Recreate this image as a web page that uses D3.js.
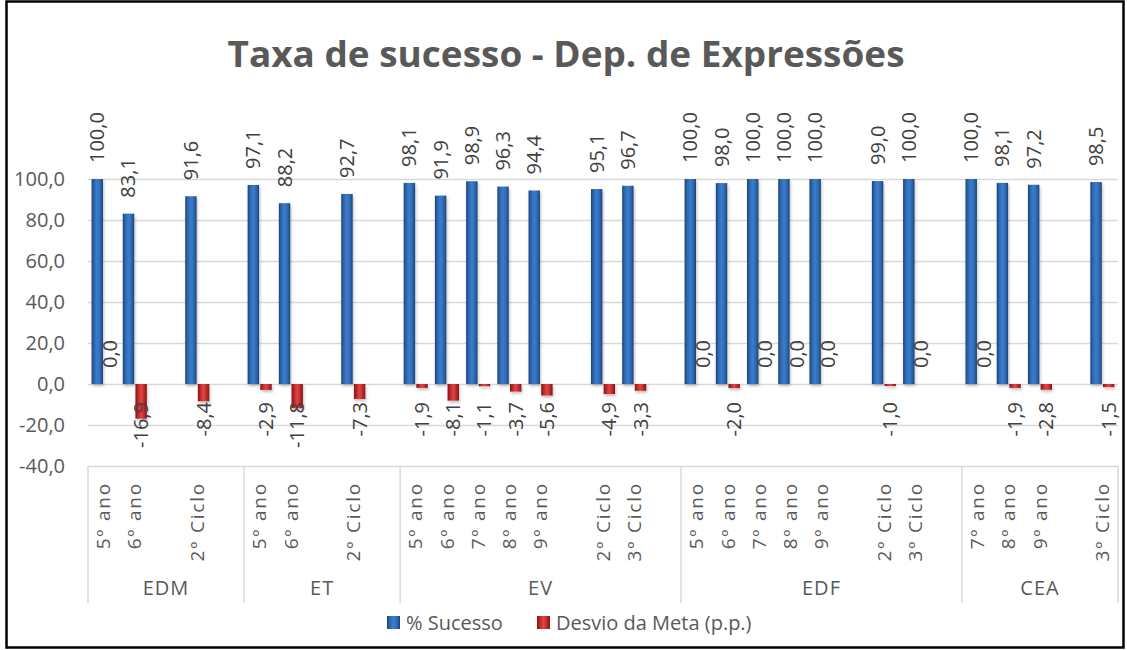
<!DOCTYPE html>
<html>
<head>
<meta charset="utf-8">
<script src="https://cdn.jsdelivr.net/npm/d3@7"></script>
<style>
  html, body { margin: 0; padding: 0; background: #fff; }
  .chart-svg text { font-family: 'Open Sans', 'Noto Sans', sans-serif; }
</style>
</head>
<body>
<div id="sucesso_chart"></div>
<script>
// Groups (departments) and how many slots each takes on the category axis
const groupNames = ['EDM', 'ET', 'EV', 'EDF', 'CEA']
const groupSlots = [5, 5, 9, 9, 5]

// One entry per slot, '' = empty slot
const yearLabels = [
  '5º ano', '6º ano', '', '2º Ciclo', '',
  '5º ano', '6º ano', '', '2º Ciclo', '',
  '5º ano', '6º ano', '7º ano', '8º ano', '9º ano', '', '2º Ciclo', '3º Ciclo', '',
  '5º ano', '6º ano', '7º ano', '8º ano', '9º ano', '', '2º Ciclo', '3º Ciclo', '',
  '7º ano', '8º ano', '9º ano', '', '3º Ciclo'
]

const sucesso = [
  100.0, 83.1, null, 91.6, null,
  97.1, 88.2, null, 92.7, null,
  98.1, 91.9, 98.9, 96.3, 94.4, null, 95.1, 96.7, null,
  100.0, 98.0, 100.0, 100.0, 100.0, null, 99.0, 100.0, null,
  100.0, 98.1, 97.2, null, 98.5
]

const desvio = [
  0.0, -16.9, null, -8.4, null,
  -2.9, -11.8, null, -7.3, null,
  -1.9, -8.1, -1.1, -3.7, -5.6, null, -4.9, -3.3, null,
  0.0, -2.0, 0.0, 0.0, 0.0, null, -1.0, 0.0, null,
  0.0, -1.9, -2.8, null, -1.5
]

const seriesNames = ['% Sucesso', 'Desvio da Meta (p.p.)']
const yTicks = [-40, -20, 0, 20, 40, 60, 80, 100]

const fmt = (v) => v.toFixed(1).replace('.', ',')

function drawChart() {
  const width = 1127
  const height = 650
  const plot = { left: 88, right: 1118, top: 179, bottom: 466 }

  const svg = d3.select('#sucesso_chart')
    .append('svg')
    .attr('width', width)
    .attr('height', height)
    .attr('class', 'chart-svg')

  // Gradients for the bevelled bars
  const defs = svg.append('defs')
  const gradients = [
    { id: 'grad_blue', stops: ['#1b3f6f', '#2c66ad', '#3b7dcc', '#2c66ad', '#1b3f6f'] },
    { id: 'grad_red', stops: ['#7c1414', '#b82626', '#e04646', '#b82626', '#7c1414'] }
  ]
  gradients.forEach((g) => {
    const lg = defs.append('linearGradient')
      .attr('id', g.id)
      .attr('x1', '0%').attr('x2', '100%')
      .attr('y1', '0%').attr('y2', '0%')
    g.stops.forEach((c, i) => {
      lg.append('stop')
        .attr('offset', `${[0, 20, 50, 80, 100][i]}%`)
        .attr('stop-color', c)
    })
  })
  defs.append('filter')
    .attr('id', 'bar_shadow')
    .attr('x', '-50%').attr('y', '-10%')
    .attr('width', '200%').attr('height', '130%')
    .append('feDropShadow')
    .attr('dx', 1).attr('dy', 2)
    .attr('stdDeviation', 1.5)
    .attr('flood-color', '#000')
    .attr('flood-opacity', 0.25)

  // Outer border
  svg.append('rect')
    .attr('x', 6.5).attr('y', 1.5)
    .attr('width', 1117).attr('height', 646)
    .attr('fill', 'none')
    .attr('stroke', '#000')
    .attr('stroke-width', 2.5)

  // Title
  svg.append('text')
    .attr('x', 566)
    .attr('y', 67)
    .attr('text-anchor', 'middle')
    .attr('textLength', 677)
    .attr('lengthAdjust', 'spacingAndGlyphs')
    .style('font-size', '35px')
    .style('font-weight', 'bold')
    .style('fill', '#595959')
    .text('Taxa de sucesso - Dep. de Expressões')

  //===========================================================================

  const slots = d3.range(yearLabels.length)

  const xScale = d3.scaleBand()
    .domain(slots)
    .range([plot.left, plot.right])
    .paddingInner(0.23)
    .paddingOuter(0.115)

  const seriesScale = d3.scaleBand()
    .domain([0, 1])
    .range([0, xScale.bandwidth()])
    .paddingInner(0.1)

  const yScale = d3.scaleLinear()
    .domain([-40, 100])
    .range([plot.bottom, plot.top])

  // Y gridlines
  const yGridCall = d3.axisLeft(yScale)
    .tickValues(yTicks)
    .tickSize(-(plot.right - plot.left))
    .tickFormat('')

  svg.append('g')
    .attr('class', 'y grid')
    .attr('transform', `translate(${plot.left}, 0)`)
    .call(yGridCall)
    .call((g) => g.select('.domain').remove())
    .call((g) => g.selectAll('line').attr('stroke', '#d9d9d9').attr('stroke-width', 1.3))

  // Y tick labels
  const yAxisCall = d3.axisLeft(yScale)
    .tickValues(yTicks)
    .tickSize(0)
    .tickPadding(0)
    .tickFormat(fmt)

  svg.append('g')
    .attr('class', 'y axis')
    .attr('transform', 'translate(65, 0)')
    .call(yAxisCall)
    .call((g) => g.select('.domain').remove())
    .call((g) => g.selectAll('text')
      .attr('x', 0)
      .style('font-size', '20px')
      .style('fill', '#595959'))

  //===========================================================================

  // Bars
  const series = [sucesso, desvio]
  const fills = ['url(#grad_blue)', 'url(#grad_red)']
  const y0 = yScale(0)

  series.forEach((values, s) => {
    const data = slots.filter((i) => values[i] !== null)
      .map((i) => ({ slot: i, value: values[i] }))

    svg.append('g')
      .attr('class', `bars series-${s}`)
      .attr('filter', 'url(#bar_shadow)')
      .selectAll('rect')
      .data(data)
      .join('rect')
      .attr('x', (d) => xScale(d.slot) + seriesScale(s))
      .attr('width', seriesScale.bandwidth())
      .attr('y', (d) => Math.min(yScale(d.value), y0))
      .attr('height', (d) => Math.abs(yScale(d.value) - y0))
      .attr('fill', fills[s])

    // Data labels, rotated
    svg.append('g')
      .attr('class', `labels series-${s}`)
      .selectAll('text')
      .data(data)
      .join('text')
      .attr('transform', (d) => {
        const x = xScale(d.slot) + seriesScale(s) + seriesScale.bandwidth() / 2
        const y = d.value >= 0 ? yScale(d.value) - 16 : y0 + 18
        return `translate(${x}, ${y}) rotate(-90)`
      })
      .attr('dy', '0.35em')
      .attr('text-anchor', (d) => d.value >= 0 ? 'start' : 'end')
      .style('font-size', '20px')
      .style('fill', '#404040')
      .text((d) => fmt(d.value))
  })

  //===========================================================================

  // Category table below the plot
  const tableBottom = 603
  let start = 0
  const groups = groupNames.map((name, i) => {
    const g = { name, first: start, last: start + groupSlots[i] - 1 }
    start += groupSlots[i]
    return g
  })

  const step = xScale.step()
  const edges = [plot.left].concat(groups.map((g) => xScale(g.last) - xScale.paddingInner() * step / 2 + step))

  svg.append('g')
    .attr('class', 'x separators')
    .selectAll('line')
    .data(edges)
    .join('line')
    .attr('x1', (d) => d)
    .attr('x2', (d) => d)
    .attr('y1', plot.bottom)
    .attr('y2', tableBottom)
    .attr('stroke', '#d9d9d9')
    .attr('stroke-width', 1.5)

  svg.append('g')
    .attr('class', 'x axis')
    .selectAll('text')
    .data(slots.filter((i) => yearLabels[i] !== ''))
    .join('text')
    .attr('transform', (i) => `translate(${xScale(i) + xScale.bandwidth() / 2}, 482) rotate(-90)`)
    .attr('dy', '0.35em')
    .attr('text-anchor', 'end')
    .style('font-size', '19px')
    .style('letter-spacing', '1.8px')
    .style('fill', '#595959')
    .text((i) => yearLabels[i])

  svg.append('g')
    .attr('class', 'x groups')
    .selectAll('text')
    .data(groups)
    .join('text')
    .attr('x', (d, i) => (edges[i] + edges[i + 1]) / 2)
    .attr('y', 588)
    .attr('dy', '0.35em')
    .attr('text-anchor', 'middle')
    .style('font-size', '20px')
    .style('letter-spacing', '1px')
    .style('fill', '#595959')
    .text((d) => d.name)

  //===========================================================================

  // Legend
  const legend = svg.append('g').attr('class', 'legend')
  const legendX = [387, 537]
  seriesNames.forEach((name, i) => {
    legend.append('rect')
      .attr('x', legendX[i])
      .attr('y', 616)
      .attr('width', 13)
      .attr('height', 13)
      .attr('fill', fills[i])
    legend.append('text')
      .attr('x', legendX[i] + 19)
      .attr('y', 623)
      .attr('dy', '0.35em')
      .style('font-size', '20px')
      .style('fill', '#595959')
      .text(name)
  })
}

drawChart()
</script>
</body>
</html>
